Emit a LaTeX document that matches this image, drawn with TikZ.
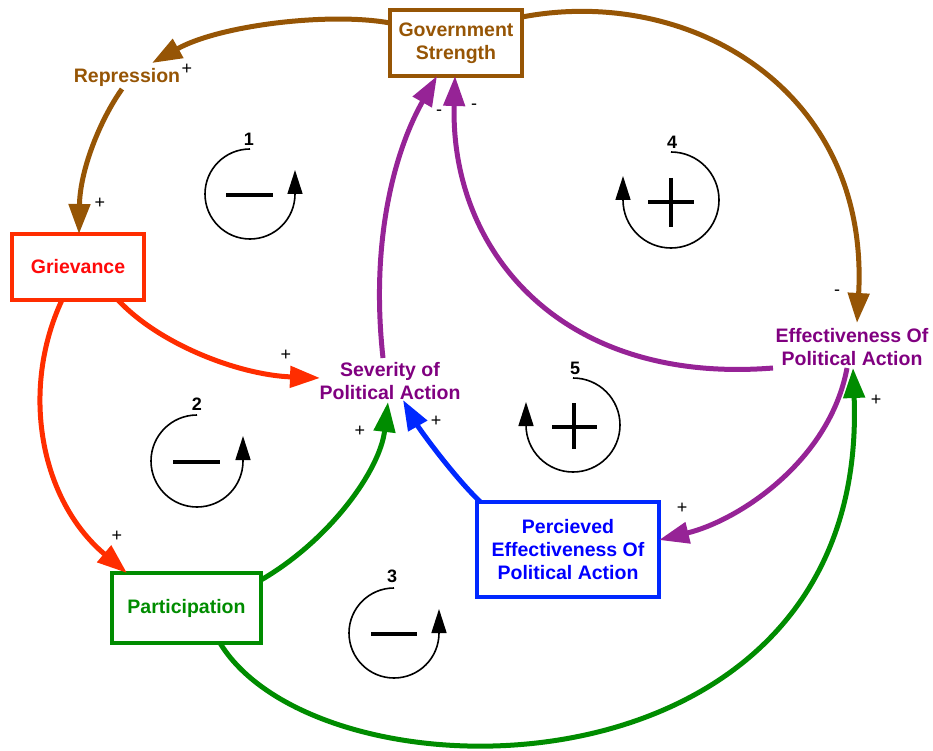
\documentclass[tikz,border=0pt]{standalone}
\usepackage{fontspec}
\setmainfont{Liberation Sans}
\usetikzlibrary{arrows.meta}
\definecolor{cbrown}{RGB}{150,85,5}
\definecolor{cred}{RGB}{255,45,0}
\definecolor{tred}{RGB}{255,10,10}
\definecolor{cgreen}{RGB}{0,140,0}
\definecolor{cblue}{RGB}{0,40,255}
\definecolor{tblue}{RGB}{0,0,255}
\definecolor{cpurple}{RGB}{150,35,150}
\definecolor{tpurple}{RGB}{128,0,128}
\begin{document}
\begin{tikzpicture}[x=1pt,y=-1pt,
  lbl/.style={font=\fontsize{19.5}{23}\selectfont\bfseries, align=center, inner sep=0pt},
  boxnode/.style={lbl, draw, line width=3.4pt},
  link/.style={line width=5pt, -{Triangle[length=30pt,width=21pt]}},
  pol/.style={font=\fontsize{18}{18}\selectfont, inner sep=0pt},
  loopline/.style={line width=1.6pt},
  looptip/.style={line width=1.6pt, -{Triangle[length=24pt,width=15pt]}},
  loopnum/.style={font=\fontsize{18}{18}\selectfont\bfseries, inner sep=0pt},
  sign/.style={line width=4pt},
]
\useasboundingbox (0,0) rectangle (933,751);

% nodes
\node[boxnode, draw=cbrown, text=cbrown, minimum width=132, minimum height=66] (gov) at (456,43) {Government\\Strength};
\node[lbl, text=cbrown] (rep) at (127,77) {Repression};
\node[boxnode, draw=cred, text=tred, minimum width=132, minimum height=66] (griev) at (78,267) {Grievance};
\node[boxnode, draw=cgreen, text=cgreen, minimum width=149, minimum height=70] (part) at (186.5,608) {Participation};
\node[lbl, text=tpurple] (sev) at (390,381) {Severity of\\Political Action};
\node[boxnode, draw=cblue, text=tblue, minimum width=182, minimum height=95] (perc) at (568,549.5) {Percieved\\Effectiveness Of\\Political Action};
\node[lbl, text=tpurple] (eff) at (852,347) {Effectiveness Of\\Political Action};

% connectors
\draw[link, cbrown] ([shift={(-66,-20)}]gov.center) .. controls (330,12) and (220,25) .. ([shift={(25,-14)}]rep.center);
\draw[link, cbrown] ([shift={(-5,12)}]rep.center) .. controls (100,120) and (80,170) .. ([shift={(1,-33)}]griev.center);
\draw[link, cbrown] ([shift={(66,-26)}]gov.center) .. controls (690,-15) and (870,90) .. ([shift={(5,-24)}]eff.center);
\draw[link, cred] ([shift={(40,33)}]griev.center) .. controls (160,345) and (240,375) .. ([shift={(-70,-3)}]sev.center);
\draw[link, cred] ([shift={(-16,33)}]griev.center) .. controls (20,390) and (40,500) .. ([shift={(-59.5,-35)}]part.center);
\draw[link, cgreen] ([shift={(74.5,-28)}]part.center) .. controls (330,540) and (380,470) .. ([shift={(-2,21)}]sev.center);
\draw[link, cgreen] ([shift={(33.5,35)}]part.center) .. controls (320,808) and (870,808) .. ([shift={(1,21)}]eff.center);
\draw[link, cblue] ([shift={(-88,-48)}]perc.center) .. controls (455,478) and (420,430) .. ([shift={(13,19)}]sev.center);
\draw[link, cpurple] ([shift={(-5,21)}]eff.center) .. controls (830,460) and (740,520) .. ([shift={(91,-9.5)}]perc.center);
\draw[link, cpurple] ([shift={(-7,-23)}]sev.center) .. controls (370,240) and (395,150) .. ([shift={(-19,33)}]gov.center);
\draw[link, cpurple] ([shift={(-79,21)}]eff.center) .. controls (560,385) and (450,250) .. ([shift={(-1,33)}]gov.center);

% polarity labels
\node[pol] (p1) at (187,69) {+};
\node[pol] (p2) at (100,203) {+};
\node[pol] (p3) at (837,293) {-};
\node[pol] (p4) at (286,355) {+};
\node[pol] (p5) at (117,536) {+};
\node[pol] (p6) at (360,431) {+};
\node[pol] (p7) at (436,421) {+};
\node[pol] (p8) at (876,400) {+};
\node[pol] (p9) at (682,508) {+};
\node[pol] (p10) at (439,113) {-};
\node[pol] (p11) at (474,107) {-};

% loop markers
\draw[loopline] (250,149) arc[start angle=270, end angle=0, radius=45];
\draw[looptip] (295,194) -- (295,170);
\draw[sign] (226,195) -- (273,195);
\node[loopnum] (n1) at (249,139) {1};

\draw[loopline] (197,415) arc[start angle=270, end angle=0, radius=46];
\draw[looptip] (243,461) -- (243,436);
\draw[sign] (173,462) -- (220,462);
\node[loopnum] (n2) at (197,404) {2};

\draw[loopline] (394,588) arc[start angle=270, end angle=0, radius=45];
\draw[looptip] (439,633) -- (439,609);
\draw[sign] (371,634) -- (417,634);
\node[loopnum] (n3) at (392,576) {3};

\draw[loopline] (671,152) arc[start angle=270, end angle=540, radius=48];
\draw[looptip] (623,200) -- (623,176);
\draw[sign] (648,202) -- (694,202);
\draw[sign] (671,178) -- (671,227);
\node[loopnum] (n4) at (672,142) {4};

\draw[loopline] (573,378) arc[start angle=270, end angle=540, radius=47];
\draw[looptip] (526,425) -- (526,402);
\draw[sign] (552,427) -- (597,427);
\draw[sign] (574,403) -- (574,449);
\node[loopnum] (n5) at (575,368) {5};
\end{tikzpicture}
\end{document}
